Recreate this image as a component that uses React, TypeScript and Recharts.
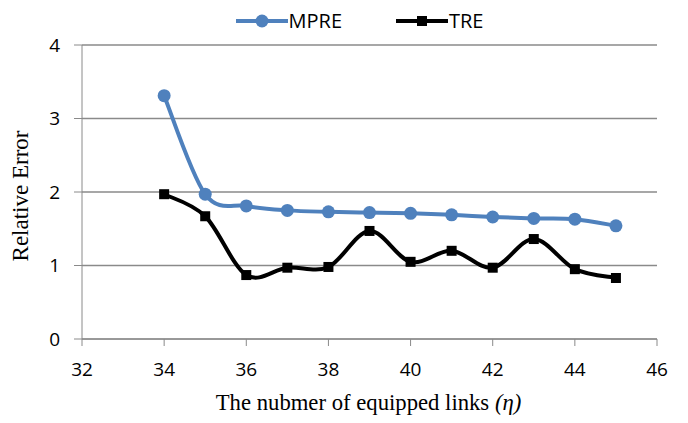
import React from "react";
import {
  CartesianGrid,
  Line,
  LineChart,
  XAxis,
  YAxis,
} from "recharts";

const links = [34, 35, 36, 37, 38, 39, 40, 41, 42, 43, 44, 45];
const mpre = [3.31, 1.97, 1.81, 1.75, 1.73, 1.72, 1.71, 1.69, 1.66, 1.64, 1.63, 1.54];
const tre = [1.97, 1.67, 0.87, 0.97, 0.98, 1.47, 1.05, 1.2, 0.97, 1.36, 0.95, 0.83];
const xTicks = [32, 34, 36, 38, 40, 42, 44, 46];
const yTicks = [0, 1, 2, 3, 4];

const data = links.map((n, i) => ({ n, mpre: mpre[i], tre: tre[i] }));

const BLUE = "#4F81BD";
const GRID = "#8a8a8a";

// excel style smoothing (catmull-rom as bezier)
const excelSmooth = (context: any) => {
  let pts: number[][] = [];
  return {
    areaStart() {},
    areaEnd() {},
    lineStart() {
      pts = [];
    },
    point(x: number, y: number) {
      pts.push([+x, +y]);
    },
    lineEnd() {
      if (!pts.length) return;
      context.moveTo(pts[0][0], pts[0][1]);
      for (let i = 0; i < pts.length - 1; i++) {
        const p0 = pts[Math.max(i - 1, 0)];
        const p1 = pts[i];
        const p2 = pts[i + 1];
        const p3 = pts[Math.min(i + 2, pts.length - 1)];
        context.bezierCurveTo(
          p1[0] + (p2[0] - p0[0]) / 6,
          p1[1] + (p2[1] - p0[1]) / 6,
          p2[0] - (p3[0] - p1[0]) / 6,
          p2[1] - (p3[1] - p1[1]) / 6,
          p2[0],
          p2[1]
        );
      }
    },
  };
};

const SquareDot = (props: any) => {
  const { cx, cy, index } = props;
  return <rect key={"sq" + index} x={cx - 5} y={cy - 5} width={10} height={10} fill="#000" />;
};

const tickFont = { fontFamily: "'Open Sans', sans-serif", fontSize: 19, fill: "#000" };

function LegendItem({ name, color, square }: { name: string; color: string; square?: boolean }) {
  return (
    <div style={{ display: "flex", alignItems: "center" }}>
      <svg width={52} height={16}>
        <line x1={0} y1={8} x2={52} y2={8} stroke={color} strokeWidth={4} />
        {square ? (
          <rect x={21} y={3} width={10} height={10} fill={color} />
        ) : (
          <circle cx={26} cy={8} r={6.5} fill={color} />
        )}
      </svg>
      <span style={{ fontFamily: "'Open Sans', sans-serif", fontSize: 20, marginLeft: 1 }}>{name}</span>
    </div>
  );
}

export default function App() {
  return (
    <div style={{ position: "relative", width: 672, height: 407 }}>
      <div
        style={{
          position: "absolute",
          left: 64,
          width: 575,
          top: -1,
          display: "flex",
          justifyContent: "center",
          gap: 54,
        }}
      >
        <LegendItem name="MPRE" color={BLUE} />
        <LegendItem name="TRE" color="#000" square />
      </div>
      <LineChart
        width={672}
        height={407}
        data={data}
        margin={{ top: 37, right: 23, bottom: 0, left: 4 }}
      >
        <CartesianGrid horizontal vertical={false} stroke={GRID} strokeWidth={1.3} />
        <XAxis
          dataKey="n"
          type="number"
          domain={[32, 46]}
          ticks={xTicks}
          height={76}
          stroke={GRID}
          tickSize={7}
          tickMargin={17}
          tick={tickFont}
          label={{
            content: (p: any) => {
              const vb = p.viewBox;
              return (
                <text
                  x={vb.x + vb.width / 2 - 1}
                  y={vb.y + 71}
                  textAnchor="middle"
                  fontFamily="'Liberation Serif', serif"
                  fontSize={22.7}
                  fill="#000"
                >
                  The nubmer of equipped links <tspan fontStyle="italic">(η)</tspan>
                </text>
              );
            },
          }}
        />
        <YAxis
          type="number"
          domain={[0, 4]}
          ticks={yTicks}
          width={70}
          stroke={GRID}
          tickSize={8}
          tickMargin={14}
          tick={tickFont}
          label={{
            content: (p: any) => {
              const vb = p.viewBox;
              const cx = vb.x + 16;
              const cy = vb.y + vb.height / 2 + 4;
              return (
                <text
                  x={cx}
                  y={cy}
                  textAnchor="middle"
                  transform={`rotate(-90 ${cx} ${cy})`}
                  fontFamily="'Liberation Serif', serif"
                  fontSize={23}
                  fill="#000"
                >
                  Relative Error
                </text>
              );
            },
          }}
        />
        <Line
          dataKey="mpre"
          name="MPRE"
          type={excelSmooth as any}
          stroke={BLUE}
          strokeWidth={4}
          dot={{ r: 6.5, fill: BLUE, stroke: BLUE, strokeWidth: 0 }}
          isAnimationActive={false}
        />
        <Line
          dataKey="tre"
          name="TRE"
          type={excelSmooth as any}
          stroke="#000"
          strokeWidth={4}
          dot={<SquareDot />}
          isAnimationActive={false}
        />
      </LineChart>
    </div>
  );
}
